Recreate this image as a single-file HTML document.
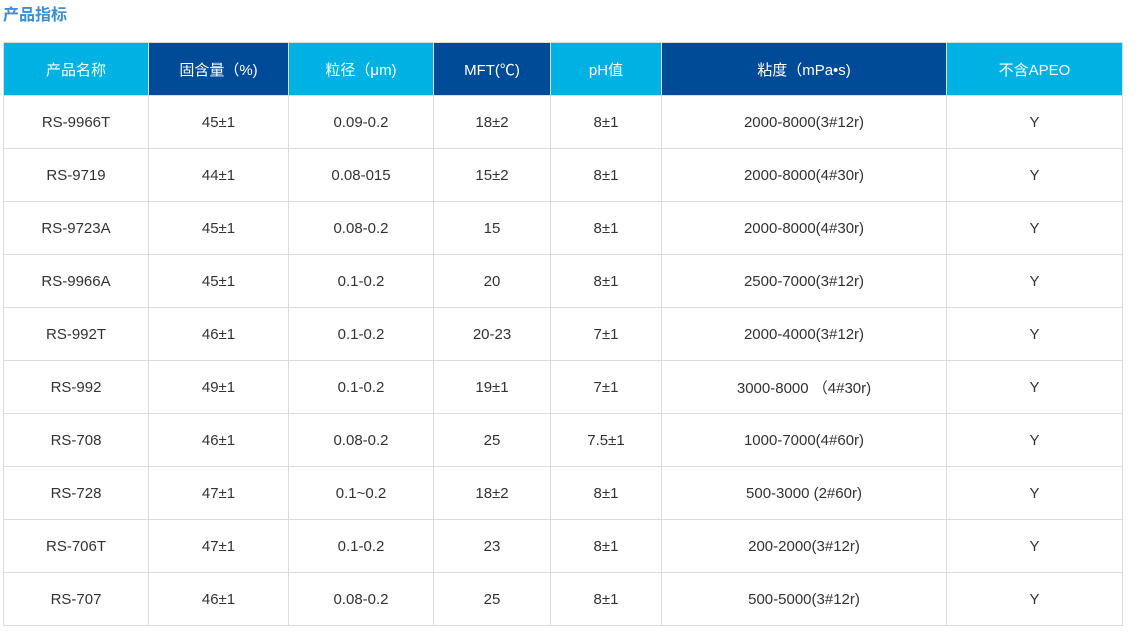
<!DOCTYPE html>
<html><head><meta charset="utf-8"><style>
body{margin:0;width:1137px;height:637px;background:#fff;font-family:"Liberation Sans","Noto Sans CJK SC",sans-serif;}
.t{position:absolute;left:3px;top:1px;font-size:16px;font-weight:bold;color:#3a8fd2;}
table{position:absolute;left:3px;top:42px;border-collapse:collapse;table-layout:fixed;}
td,th{border:1px solid #dcdcdc;text-align:center;font-size:15px;color:#333;height:52px;padding:0;font-weight:normal;}
th{color:#fff;}
th.l{background:#00b2e3;} th.d{background:#004b97;}
</style></head><body>
<div class="t">产品指标</div>
<table>
<colgroup><col style="width:145px"><col style="width:140px"><col style="width:145px"><col style="width:117px"><col style="width:111px"><col style="width:285px"><col style="width:176px"></colgroup>
<tr><th class="l">产品名称</th><th class="d">固含量（%)</th><th class="l">粒径（μm)</th><th class="d">MFT(℃)</th><th class="l">pH值</th><th class="d">粘度（mPa•s)</th><th class="l">不含APEO</th></tr>
<tr><td>RS-9966T</td><td>45±1</td><td>0.09-0.2</td><td>18±2</td><td>8±1</td><td>2000-8000(3#12r)</td><td>Y</td></tr>
<tr><td>RS-9719</td><td>44±1</td><td>0.08-015</td><td>15±2</td><td>8±1</td><td>2000-8000(4#30r)</td><td>Y</td></tr>
<tr><td>RS-9723A</td><td>45±1</td><td>0.08-0.2</td><td>15</td><td>8±1</td><td>2000-8000(4#30r)</td><td>Y</td></tr>
<tr><td>RS-9966A</td><td>45±1</td><td>0.1-0.2</td><td>20</td><td>8±1</td><td>2500-7000(3#12r)</td><td>Y</td></tr>
<tr><td>RS-992T</td><td>46±1</td><td>0.1-0.2</td><td>20-23</td><td>7±1</td><td>2000-4000(3#12r)</td><td>Y</td></tr>
<tr><td>RS-992</td><td>49±1</td><td>0.1-0.2</td><td>19±1</td><td>7±1</td><td>3000-8000&nbsp;（4#30r)</td><td>Y</td></tr>
<tr><td>RS-708</td><td>46±1</td><td>0.08-0.2</td><td>25</td><td>7.5±1</td><td>1000-7000(4#60r)</td><td>Y</td></tr>
<tr><td>RS-728</td><td>47±1</td><td>0.1~0.2</td><td>18±2</td><td>8±1</td><td>500-3000 (2#60r)</td><td>Y</td></tr>
<tr><td>RS-706T</td><td>47±1</td><td>0.1-0.2</td><td>23</td><td>8±1</td><td>200-2000(3#12r)</td><td>Y</td></tr>
<tr><td>RS-707</td><td>46±1</td><td>0.08-0.2</td><td>25</td><td>8±1</td><td>500-5000(3#12r)</td><td>Y</td></tr>
</table>
</body></html>
